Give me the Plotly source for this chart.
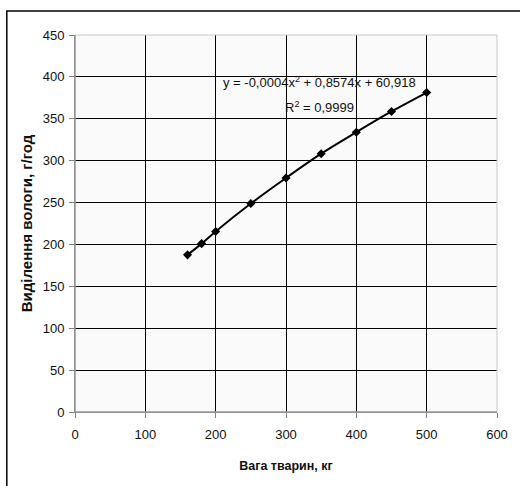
import plotly.graph_objects as go

weight = [160, 180, 200, 250, 300, 350, 400, 450, 500]
moisture = [187.6, 201, 215.5, 248.8, 279.3, 308.3, 334, 358.7, 381.3]

x_ticks = [0, 100, 200, 300, 400, 500, 600]
y_ticks = [0, 50, 100, 150, 200, 250, 300, 350, 400, 450]

x_title = "Вага тварин, кг"
y_title = "Виділення вологи, г/год"
eq_text = "y = -0,0004x<sup>2</sup> + 0,8574x + 60,918"
r2_text = "R<sup>2</sup> = 0,9999"

FONT = "Liberation Sans, Arial, sans-serif"

fig = go.Figure()
fig.add_trace(go.Scatter(
    x=weight, y=moisture, mode="lines+markers",
    line=dict(color="black", width=2, shape="spline"),
    marker=dict(symbol="diamond", size=7, color="black"),
    showlegend=False, hoverinfo="skip",
))

fig.update_layout(
    width=520, height=486, autosize=False,
    margin=dict(l=75, r=18, t=35, b=74),
    paper_bgcolor="white", plot_bgcolor="#fafafa",
    font=dict(family=FONT, size=13, color="#111"),
    xaxis=dict(
        range=[0, 600], tickvals=x_ticks, showgrid=True, gridcolor="black", gridwidth=1,
        zeroline=False, showline=True, linecolor="#808080", linewidth=1,
        ticks="outside", ticklen=5, tickcolor="#808080", ticklabelstandoff=5,
        title=dict(text=f"<b>{x_title}</b>", standoff=20, font=dict(size=12.5)),
    ),
    yaxis=dict(
        range=[0, 450], tickvals=y_ticks, showgrid=True, gridcolor="black", gridwidth=1,
        zeroline=False, showline=True, linecolor="#808080", linewidth=1,
        ticks="outside", ticklen=5, tickcolor="#808080", ticklabelstandoff=2,
        title=dict(text=f"<b>{y_title}</b>", standoff=6, font=dict(size=15)),
    ),
    shapes=[
        dict(type="rect", xref="paper", yref="paper", x0=0, x1=1, y0=0, y1=1,
             line=dict(color="#c8c8c8", width=1), layer="above"),
        dict(type="line", xref="paper", yref="paper", x0=0, x1=0, y0=0, y1=1,
             line=dict(color="#808080", width=1), layer="above"),
        dict(type="line", xref="paper", yref="paper", x0=0, x1=1, y0=0, y1=0,
             line=dict(color="#808080", width=1), layer="above"),
        dict(type="rect", xref="paper", yref="paper", x0=-0.1616, x1=1.06, y0=-0.21, y1=1.0637,
             line=dict(color="black", width=1.5), layer="below"),
    ],
    annotations=[
        dict(text=eq_text, x=0.579, y=0.875, xref="paper", yref="paper",
             showarrow=False, font=dict(size=13, color="#111"), xanchor="center", yanchor="middle"),
        dict(text=r2_text, x=0.579, y=0.809, xref="paper", yref="paper",
             showarrow=False, font=dict(size=13, color="#111"), xanchor="center", yanchor="middle"),
    ],
)

fig.write_html("out.html", config={"displayModeBar": False},
               post_script="document.body.style.margin='0';")
